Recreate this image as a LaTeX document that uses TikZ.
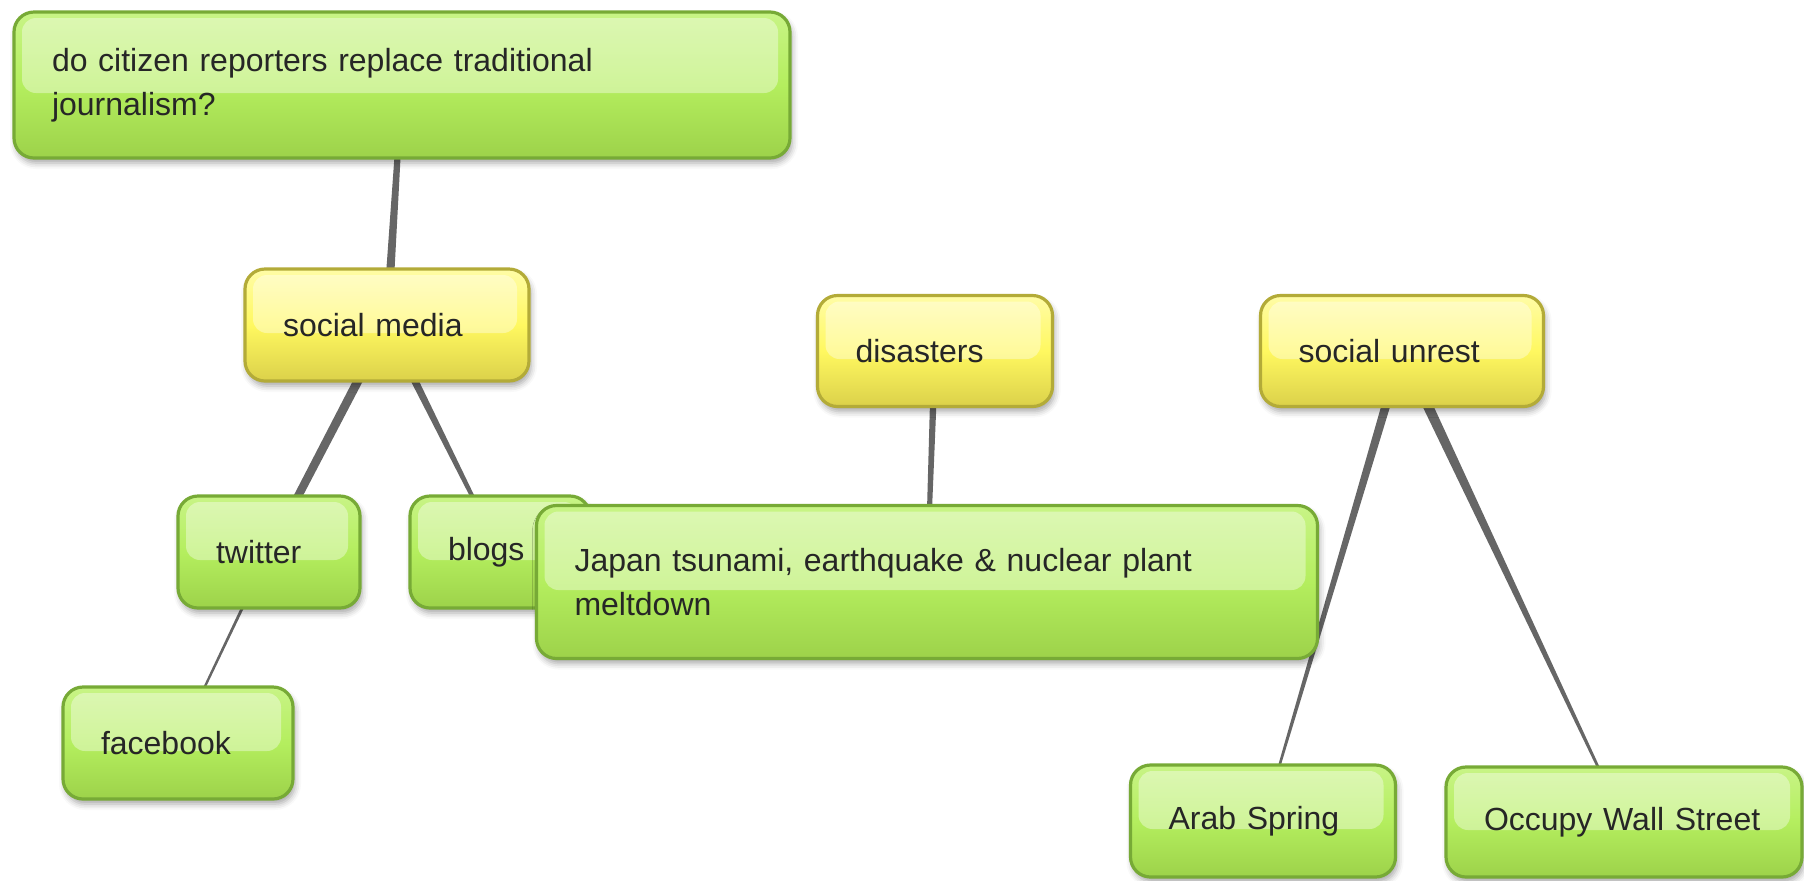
\documentclass[tikz,border=0pt]{standalone}
\usepackage{fontspec}
\setmainfont{Liberation Sans}
\usetikzlibrary{positioning,calc,shadows.blur,backgrounds}

\definecolor{leafline}{HTML}{77AA36}
\definecolor{leaftop}{HTML}{C8F486}
\definecolor{leafmid}{HTML}{B4EE5E}
\definecolor{leafbot}{HTML}{9DD24A}
\definecolor{topicline}{HTML}{B3AB38}
\definecolor{topictop}{HTML}{FFFCA6}
\definecolor{topicmid}{HTML}{FFF860}
\definecolor{topicbot}{HTML}{DBD14A}
\definecolor{labelgray}{HTML}{262626}
\definecolor{linkgray}{HTML}{666666}

\newcommand{\tapered}[4]{%
  \fill[link] ($(#1)!#3!90:(#2)$) -- ($(#2)!#4!-90:(#1)$)
    -- ($(#2)!#4!90:(#1)$) -- ($(#1)!#3!-90:(#2)$) -- cycle;}

\begin{document}
\begin{tikzpicture}[x=0.5pt,y=-0.5pt,
  bubble/.style={rounded corners=10pt,line width=1.6pt,align=left,
    inner xsep=19pt,inner ysep=0pt,text=labelgray,
    font=\fontsize{16}{22}\selectfont,
    blur shadow={shadow xshift=1pt,shadow yshift=-2.5pt,shadow opacity=35,shadow blur radius=3pt},
    path picture={\fill[white,opacity=.38,rounded corners=7pt]
      ([shift={(4pt,-3pt)}]path picture bounding box.north west) rectangle
      ([shift={(-6pt,-4pt)}]path picture bounding box.east);}},
  leaf/.style={bubble,draw=leafline,top color=leaftop,bottom color=leafbot,middle color=leafmid},
  topic/.style={bubble,draw=topicline,top color=topictop,bottom color=topicbot,middle color=topicmid},
  link/.style={fill=linkgray}]
\useasboundingbox (0,0) rectangle (1804,880);

\node[leaf,text width=350pt,minimum height=73pt] (question) at (402,85)
  {do citizen reporters replace traditional\\journalism?};
\node[topic,text width=104pt,minimum height=56pt] (media) at (387,325) {social media};
\node[leaf,text width=53pt,minimum height=56pt] (twitter) at (269,552) {twitter};
\node[leaf,text width=52pt,minimum height=56pt] (blogs) at (500,552) {blogs};
\node[leaf,text width=77pt,minimum height=56pt] (facebook) at (178,743) {facebook};
\node[topic,text width=79.5pt,minimum height=55.5pt] (disasters) at (935,351) {disasters};
\node[leaf,text width=352.5pt,minimum height=76.5pt] (japan) at (927,582)
  {Japan tsunami, earthquake \& nuclear plant\\meltdown};
\node[topic,text width=103.5pt,minimum height=55.5pt] (unrest) at (1402,351) {social unrest};
\node[leaf,text width=94.5pt,minimum height=56pt] (arab) at (1263,821) {Arab Spring};
\node[leaf,text width=140pt,minimum height=55pt] (occupy) at (1624,822) {Occupy Wall Street};

% tapered links, behind the bubbles
\begin{scope}[on background layer]
  \tapered{question}{media}{1.2pt}{2.3pt}
  \tapered{media}{twitter}{2.3pt}{2pt}
  \tapered{media}{blogs}{2.2pt}{0.7pt}
  \tapered{twitter}{facebook}{0.8pt}{0.5pt}
  \tapered{disasters}{japan}{1.8pt}{1pt}
  \tapered{unrest}{arab}{2.4pt}{0.4pt}
  \tapered{unrest}{occupy}{2.8pt}{0.4pt}
\end{scope}
\end{tikzpicture}
\end{document}
